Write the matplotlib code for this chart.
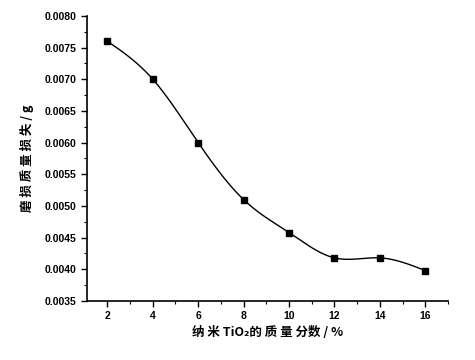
import numpy as np
import matplotlib
matplotlib.use("Agg")
import matplotlib.pyplot as plt
from matplotlib.ticker import MultipleLocator, FormatStrFormatter

plt.rcParams['font.family'] = ['Noto Sans CJK SC', 'DejaVu Sans']

tio2_pct = [2, 4, 6, 8, 10, 12, 14, 16]
wear_loss = [0.0076, 0.0070, 0.0060, 0.0051, 0.00458, 0.00418, 0.00418, 0.00398]
xlabel = "纳 米 TiO₂的 质 量 分数 / %"
ylabel = "磨 损 质 量 损 失 / g"


def natural_spline(x, y, xs):
    x = np.asarray(x, float); y = np.asarray(y, float)
    n = len(x)
    h = np.diff(x)
    A = np.zeros((n, n)); b = np.zeros(n)
    A[0, 0] = 1; A[-1, -1] = 1
    for i in range(1, n - 1):
        A[i, i - 1] = h[i - 1]
        A[i, i] = 2 * (h[i - 1] + h[i])
        A[i, i + 1] = h[i]
        b[i] = 3 * ((y[i + 1] - y[i]) / h[i] - (y[i] - y[i - 1]) / h[i - 1])
    c = np.linalg.solve(A, b)
    out = np.empty_like(xs)
    for k, t in enumerate(xs):
        i = min(max(np.searchsorted(x, t) - 1, 0), n - 2)
        dx = t - x[i]
        bi = (y[i + 1] - y[i]) / h[i] - h[i] * (2 * c[i] + c[i + 1]) / 3
        di = (c[i + 1] - c[i]) / (3 * h[i])
        out[k] = y[i] + bi * dx + c[i] * dx ** 2 + di * dx ** 3
    return out


fig = plt.figure(figsize=(4.75, 3.6), dpi=100)
ax = fig.add_axes([0.183, 0.164, 0.760, 0.792])

xs = np.linspace(tio2_pct[0], tio2_pct[-1], 400)
ax.plot(xs, natural_spline(tio2_pct, wear_loss, xs), color='black', lw=1.0)
ax.plot(tio2_pct, wear_loss, 's', color='black', ms=4.5)

ax.set_xlim(1.1, 17)
ax.set_ylim(0.0035, 0.0080)
ax.xaxis.set_major_locator(MultipleLocator(2))
ax.xaxis.set_minor_locator(MultipleLocator(1))
ax.yaxis.set_major_locator(MultipleLocator(0.0005))
ax.yaxis.set_minor_locator(MultipleLocator(0.00025))
ax.yaxis.set_major_formatter(FormatStrFormatter('%.4f'))
ax.spines['top'].set_visible(False)
ax.spines['right'].set_visible(False)
ax.spines['left'].set_linewidth(1.2)
ax.spines['bottom'].set_linewidth(1.2)
ax.tick_params(which='major', direction='out', length=4, width=1, labelsize=7.5)
ax.tick_params(which='minor', direction='out', length=2, width=0.8)
for lab in ax.get_xticklabels() + ax.get_yticklabels():
    lab.set_fontweight('bold')
    lab.set_family(['Liberation Sans', 'DejaVu Sans'])

ax.set_xlabel(xlabel, fontsize=9, fontweight='bold', labelpad=3)
ax.set_ylabel(ylabel, fontsize=9, fontweight='bold', labelpad=8)

fig.savefig('out.png', dpi=100)
